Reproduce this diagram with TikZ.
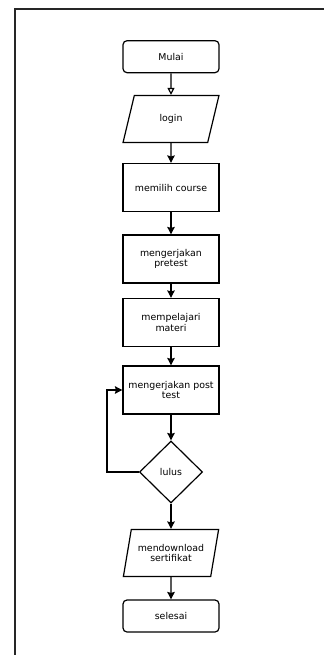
\documentclass[tikz,border=0pt]{standalone}
\usepackage{fontspec}
\setmainfont{DejaVu Sans}
\usetikzlibrary{shapes.geometric,arrows.meta}
\begin{document}
\begin{tikzpicture}[x=1pt, y=-1pt, line width=1.2pt, font=\fontsize{9.4}{10.5}\selectfont,
        box/.style={draw, minimum width=96pt, minimum height=48pt, align=center, inner sep=2pt},
        term/.style={box, rounded corners=4pt, minimum height=32pt},
        io/.style={draw, trapezium, trapezium left angle=71, trapezium right angle=109,
            trapezium stretches=true, minimum width=96pt, minimum height=47pt, align=center, inner sep=1pt},
        cond/.style={draw, diamond, minimum width=63pt, minimum height=62pt, inner sep=0pt},
        arr/.style={-{Stealth[length=7.5pt, width=7.5pt, inset=1pt]}},
        open/.style={-{Triangle[open, length=7pt, width=7pt]}}]
    \useasboundingbox (0,0) rectangle (324,655);
    \draw[black!85] (15,655) -- (15,9) -- (324,9);

    \node[term] (mulai) at (171,56.7) {Mulai};
    \node[io] (login) at (171,119) {login};
    \node[box] (course) at (171,187.5) {memilih course};
    \node[box] (pretest) at (171,259) {mengerjakan\\pretest};
    \node[box] (materi) at (171,322.5) {mempelajari\\materi};
    \node[box] (post) at (171,390) {mengerjakan post\\test};
    \node[cond] (lulus) at (171,472) {lulus};
    \node[io] (unduh) at (171,553) {mendownload\\sertifikat};
    \node[term] (selesai) at (171,616) {selesai};

    \draw[open] (mulai) -- (login);
    \draw[arr] (login) -- (course);
    \draw[arr] (course) -- (pretest);
    \draw[arr] (pretest) -- (materi);
    \draw[arr] (materi) -- (post);
    \draw[arr] (post) -- (lulus);
    \draw[arr] (lulus.west) -- ++(-32,0) |- (post.west);
    \draw[arr] (lulus) -- (unduh);
    \draw[arr] (unduh) -- (selesai);
\end{tikzpicture}
\end{document}
